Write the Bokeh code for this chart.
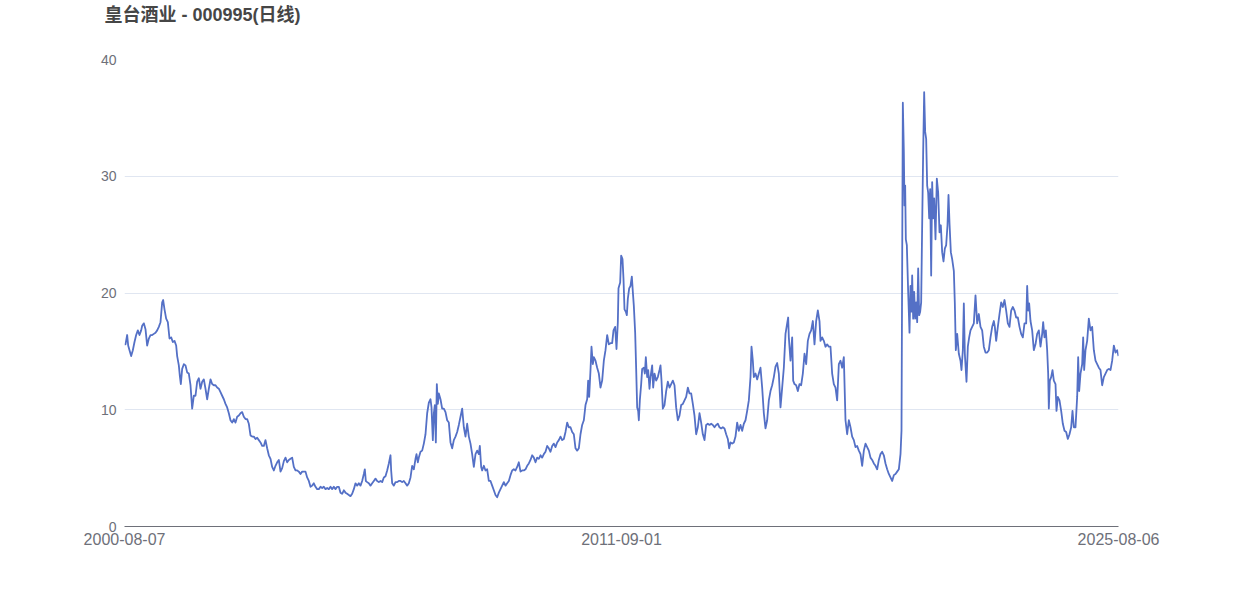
from bokeh.plotting import figure
from bokeh.models import Range1d, FixedTicker, Title, ColumnDataSource
from bokeh.embed import file_html
from bokeh.resources import INLINE

title_text = "皇台酒业 - 000995(日线)"
tick_sessions = [0, 2982, 5964]
tick_dates = ["2000-08-07", "2011-09-01", "2025-08-06"]
y_ticks = [0, 10, 20, 30, 40]

# trading-session index (0 = 2000-08-07) and closing price
session = [
    0, 6, 16, 22, 30, 40, 50, 60, 70, 80, 90, 100, 106, 116, 126, 136, 146, 156, 166, 176,
    186, 196, 206, 216, 226, 232, 240, 250, 260, 270, 280, 290, 300, 310, 316, 326, 332, 338, 346, 356,
    366, 376, 386, 396, 406, 416, 426, 436, 446, 456, 466, 476, 486, 496, 506, 516, 526, 536, 546, 556,
    566, 576, 586, 596, 606, 616, 626, 636, 646, 656, 666, 676, 686, 696, 706, 716, 726, 736, 746, 756,
    766, 776, 786, 796, 806, 816, 826, 836, 846, 856, 866, 876, 886, 896, 906, 916, 926, 936, 946, 956,
    966, 976, 986, 996, 1006, 1016, 1026, 1036, 1046, 1056, 1066, 1076, 1086, 1096, 1106, 1116, 1126, 1136, 1146, 1156,
    1166, 1176, 1186, 1196, 1206, 1216, 1226, 1236, 1246, 1256, 1266, 1276, 1286, 1296, 1306, 1316, 1326, 1336, 1346, 1356,
    1366, 1376, 1386, 1396, 1406, 1416, 1426, 1436, 1442, 1448, 1456, 1466, 1476, 1486, 1496, 1506, 1516, 1526, 1536, 1546,
    1556, 1566, 1576, 1586, 1596, 1600, 1606, 1616, 1626, 1636, 1646, 1656, 1666, 1676, 1686, 1696, 1706, 1716, 1726, 1736,
    1746, 1752, 1760, 1766, 1776, 1786, 1796, 1806, 1816, 1826, 1836, 1842, 1850, 1856, 1862, 1868, 1874, 1880, 1886, 1896,
    1906, 1916, 1926, 1936, 1946, 1956, 1966, 1976, 1986, 1996, 2006, 2016, 2026, 2036, 2046, 2056, 2066, 2076, 2086, 2096,
    2106, 2116, 2126, 2132, 2140, 2146, 2156, 2166, 2176, 2186, 2196, 2206, 2216, 2226, 2236, 2246, 2256, 2266, 2276, 2286,
    2296, 2306, 2316, 2326, 2336, 2346, 2356, 2366, 2376, 2386, 2396, 2406, 2416, 2426, 2436, 2446, 2456, 2466, 2476, 2486,
    2496, 2506, 2516, 2526, 2536, 2546, 2556, 2566, 2576, 2586, 2596, 2606, 2616, 2626, 2636, 2646, 2656, 2666, 2676, 2686,
    2696, 2706, 2716, 2726, 2736, 2746, 2756, 2766, 2776, 2782, 2788, 2796, 2802, 2810, 2816, 2826, 2836, 2846, 2856, 2866,
    2876, 2886, 2896, 2906, 2916, 2926, 2934, 2944, 2952, 2960, 2964, 2974, 2980, 2988, 2994, 3000, 3008, 3014, 3020, 3028,
    3036, 3044, 3050, 3056, 3064, 3070, 3076, 3082, 3086, 3092, 3100, 3106, 3116, 3122, 3128, 3136, 3142, 3150, 3156, 3166,
    3172, 3180, 3190, 3200, 3210, 3216, 3222, 3230, 3240, 3250, 3260, 3270, 3280, 3290, 3300, 3310, 3320, 3330, 3340, 3350,
    3360, 3370, 3380, 3390, 3400, 3410, 3420, 3430, 3440, 3450, 3460, 3470, 3480, 3490, 3500, 3510, 3520, 3530, 3540, 3550,
    3560, 3570, 3580, 3590, 3600, 3610, 3620, 3628, 3636, 3646, 3656, 3666, 3676, 3686, 3696, 3706, 3716, 3726, 3736, 3746,
    3756, 3762, 3770, 3776, 3786, 3796, 3806, 3816, 3826, 3836, 3846, 3856, 3866, 3876, 3886, 3896, 3906, 3916, 3926, 3936,
    3946, 3956, 3966, 3976, 3982, 3986, 3996, 4006, 4012, 4020, 4030, 4040, 4050, 4060, 4070, 4080, 4090, 4100, 4110, 4120,
    4130, 4140, 4150, 4160, 4170, 4176, 4186, 4196, 4206, 4216, 4226, 4236, 4246, 4256, 4266, 4276, 4286, 4296, 4306, 4316,
    4326, 4336, 4346, 4356, 4366, 4376, 4386, 4396, 4406, 4416, 4426, 4436, 4446, 4456, 4466, 4476, 4486, 4496, 4506, 4516,
    4526, 4536, 4546, 4556, 4566, 4576, 4586, 4596, 4606, 4616, 4626, 4636, 4646, 4656, 4662, 4670, 4676, 4680, 4684, 4688,
    4694, 4702, 4710, 4716, 4722, 4726, 4732, 4738, 4744, 4750, 4756, 4762, 4768, 4774, 4780, 4786, 4792, 4798, 4804, 4810,
    4816, 4822, 4828, 4834, 4840, 4846, 4852, 4858, 4866, 4874, 4882, 4890, 4898, 4906, 4914, 4922, 4930, 4938, 4944, 4950,
    4958, 4966, 4976, 4982, 4988, 4996, 5006, 5016, 5022, 5030, 5036, 5042, 5052, 5060, 5068, 5076, 5086, 5096, 5106, 5116,
    5126, 5136, 5146, 5156, 5166, 5176, 5186, 5196, 5206, 5216, 5222, 5230, 5240, 5250, 5260, 5270, 5280, 5290, 5300, 5310,
    5320, 5330, 5340, 5350, 5360, 5370, 5380, 5390, 5400, 5410, 5416, 5422, 5428, 5436, 5446, 5456, 5466, 5476, 5486, 5496,
    5506, 5512, 5520, 5528, 5536, 5542, 5546, 5552, 5560, 5568, 5576, 5586, 5592, 5600, 5610, 5620, 5630, 5640, 5650, 5660,
    5670, 5680, 5688, 5696, 5706, 5716, 5722, 5728, 5736, 5746, 5752, 5758, 5766, 5776, 5786, 5796, 5806, 5816, 5826, 5836,
    5846, 5856, 5866, 5876, 5886, 5896, 5906, 5916, 5926, 5936, 5946, 5956, 5964,
]
close = [
    15.6, 15.6, 16.4, 15.5, 15.1, 14.6, 15.1, 15.8, 16.4, 16.8, 16.4, 16.8, 17.2, 17.4, 16.9, 15.5, 16.1, 16.4, 16.4, 16.5,
    16.6, 16.8, 17.1, 17.5, 19.2, 19.4, 18.6, 17.8, 17.5, 16.1, 16.2, 15.8, 15.9, 15.5, 14.6, 13.8, 12.9, 12.2, 13.5, 13.9,
    13.8, 13.2, 13.1, 12.1, 10.1, 11.2, 11.2, 12.4, 12.7, 11.8, 12.4, 12.6, 11.8, 10.9, 11.8, 12.6, 12.2, 12.1, 12.1, 11.9,
    11.8, 11.5, 11.2, 10.9, 10.5, 10.2, 9.7, 9.1, 8.9, 9.2, 8.9, 9.4, 9.5, 9.7, 9.8, 9.4, 9.2, 9.2, 8.8, 7.8,
    7.7, 7.7, 7.5, 7.6, 7.4, 7.2, 6.9, 6.9, 7.4, 6.7, 6.1, 5.8, 5.1, 4.8, 5.2, 5.5, 5.7, 4.7, 5.0, 5.6,
    5.9, 5.5, 5.7, 5.8, 5.9, 5.1, 4.8, 4.8, 4.7, 4.5, 4.7, 4.7, 4.7, 4.2, 3.9, 3.4, 3.5, 3.7, 3.4, 3.2,
    3.2, 3.4, 3.3, 3.4, 3.2, 3.3, 3.2, 3.4, 3.2, 3.4, 3.2, 3.4, 3.4, 2.9, 2.8, 3.1, 2.9, 2.8, 2.7, 2.6,
    2.8, 3.2, 3.7, 3.5, 3.7, 3.5, 3.9, 4.5, 4.9, 3.9, 3.8, 3.7, 3.5, 3.7, 3.9, 4.1, 3.9, 3.8, 3.9, 3.8,
    4.2, 4.3, 4.8, 5.4, 6.1, 4.8, 3.7, 3.5, 3.8, 3.8, 3.9, 3.9, 3.8, 3.9, 3.7, 3.5, 3.7, 4.2, 5.2, 4.9,
    5.8, 6.2, 5.5, 5.9, 6.4, 6.5, 7.1, 7.9, 9.7, 10.6, 10.9, 10.2, 7.4, 9.7, 10.4, 7.2, 12.2, 10.5, 11.4, 10.9,
    10.1, 10.1, 9.8, 9.1, 8.9, 7.2, 6.7, 7.4, 7.7, 8.1, 8.7, 9.4, 10.1, 8.5, 7.7, 8.8, 7.7, 7.1, 6.2, 5.1,
    6.2, 6.5, 6.2, 6.9, 5.1, 4.8, 5.2, 4.8, 4.9, 3.9, 3.9, 3.5, 3.1, 2.7, 2.5, 2.9, 3.2, 3.5, 3.8, 3.5,
    3.7, 3.9, 4.4, 4.8, 4.9, 4.8, 5.1, 5.5, 4.7, 4.8, 4.8, 4.9, 5.2, 5.4, 5.7, 6.1, 5.9, 5.5, 5.9, 5.8,
    6.1, 5.9, 6.2, 6.4, 6.9, 6.7, 6.4, 6.9, 7.1, 6.8, 7.2, 7.4, 7.7, 7.4, 7.5, 8.1, 8.9, 8.5, 8.5, 8.1,
    7.9, 6.7, 6.5, 6.7, 7.9, 8.7, 9.1, 10.4, 10.9, 12.5, 11.1, 13.4, 15.4, 13.9, 14.5, 14.2, 13.6, 13.1, 11.9, 12.5,
    14.2, 15.1, 16.4, 15.6, 15.7, 15.7, 16.8, 17.1, 15.2, 17.5, 20.4, 20.9, 23.2, 22.9, 21.2, 18.6, 18.4, 18.1, 19.5, 20.4,
    20.6, 21.4, 20.1, 18.9, 16.6, 13.5, 10.2, 9.9, 9.1, 10.8, 12.2, 13.5, 13.6, 13.1, 14.5, 12.8, 13.4, 11.8, 12.8, 13.8,
    11.9, 13.1, 12.5, 12.8, 13.4, 13.8, 12.5, 10.1, 10.4, 11.6, 12.4, 11.9, 12.2, 12.5, 12.1, 10.2, 9.1, 9.5, 10.4, 10.5,
    10.8, 11.1, 11.9, 11.4, 11.4, 10.5, 9.5, 7.9, 8.5, 9.7, 8.9, 7.9, 7.4, 8.7, 8.8, 8.7, 8.8, 8.7, 8.5, 8.7,
    8.8, 8.5, 8.4, 8.5, 8.4, 7.9, 7.5, 6.7, 7.2, 7.1, 7.2, 7.7, 8.9, 8.2, 8.7, 8.2, 8.8, 9.1, 9.9, 10.8,
    12.8, 15.4, 14.2, 12.8, 13.1, 12.6, 13.1, 13.6, 11.9, 9.7, 8.4, 9.1, 10.8, 11.6, 12.1, 12.8, 13.7, 14.0, 13.1, 10.2,
    11.9, 13.6, 16.5, 17.4, 17.9, 16.2, 14.2, 16.2, 12.5, 12.2, 12.1, 11.6, 12.2, 12.1, 13.1, 14.8, 13.9, 15.9, 16.5, 16.8,
    17.6, 15.6, 17.6, 18.5, 17.6, 15.9, 16.2, 15.9, 15.4, 15.6, 15.4, 15.4, 13.1, 12.2, 11.9, 10.8, 13.9, 14.2, 13.6, 14.5,
    9.1, 7.9, 9.1, 8.5, 7.7, 7.4, 6.8, 6.9, 6.5, 6.2, 5.2, 6.5, 7.1, 6.8, 6.5, 5.9, 5.7, 5.4, 5.2, 4.9,
    5.7, 6.2, 6.4, 6.1, 5.4, 4.9, 4.5, 4.2, 3.9, 4.4, 4.5, 4.7, 4.9, 6.2, 8.2, 36.3, 32.1, 27.5, 29.2, 24.6,
    24.1, 20.1, 16.6, 20.6, 18.4, 21.5, 17.8, 20.1, 17.8, 19.2, 17.5, 22.1, 18.1, 18.4, 19.2, 25.8, 32.1, 37.2, 33.8, 33.2,
    29.2, 28.6, 26.4, 28.9, 21.5, 29.5, 26.4, 28.1, 24.6, 29.8, 28.6, 25.2, 25.8, 23.5, 22.7, 23.8, 24.1, 25.8, 28.4, 26.0,
    23.5, 22.9, 21.9, 19.1, 15.1, 16.5, 14.8, 14.2, 13.4, 15.1, 19.1, 14.8, 12.4, 15.4, 16.2, 16.8, 17.1, 17.4, 19.8, 17.4,
    18.2, 17.1, 16.8, 15.4, 14.9, 14.9, 15.1, 16.2, 17.1, 17.6, 17.1, 15.9, 17.1, 18.2, 19.2, 18.8, 19.4, 18.5, 17.4, 17.1,
    18.5, 18.8, 18.5, 17.9, 17.9, 17.1, 16.5, 16.2, 17.4, 17.4, 20.6, 18.5, 19.1, 17.6, 16.8, 15.1, 15.6, 16.5, 16.8, 15.4,
    16.5, 17.5, 16.2, 16.8, 15.1, 13.1, 10.1, 12.5, 12.8, 13.4, 12.5, 12.2, 9.9, 11.1, 10.8, 9.9, 8.8, 8.2, 8.1, 7.5,
    7.9, 8.5, 9.9, 8.5, 8.5, 11.1, 14.5, 11.6, 13.1, 13.9, 16.2, 13.4, 15.1, 15.9, 17.8, 16.8, 17.1, 15.1, 14.2, 13.9,
    13.6, 13.4, 12.1, 12.8, 13.1, 13.4, 13.5, 13.4, 14.2, 15.5, 14.9, 15.1, 14.6,
]

axis_color = "#6E7079"
font = "Liberation Sans"
title_font = "Liberation Sans, Noto Sans CJK SC"

p = figure(width=1234, height=588, output_backend="svg", toolbar_location=None,
           x_range=Range1d(tick_sessions[0], tick_sessions[-1]), y_range=Range1d(0, 40),
           min_border_left=124, min_border_right=116, min_border_top=59, min_border_bottom=62)
p.outline_line_color = None
p.background_fill_color = "white"
p.border_fill_color = "white"

src = ColumnDataSource(dict(x=session, y=close))
p.line("x", "y", source=src, line_color="#5470c6", line_width=1.8, line_join="round")

p.xgrid.visible = False
p.ygrid.grid_line_color = "#E0E6F1"
p.ygrid.grid_line_width = 1
p.yaxis.ticker = FixedTicker(ticks=y_ticks)
p.yaxis.axis_line_color = None
p.yaxis.major_tick_line_color = None
p.yaxis.minor_tick_line_color = None
p.yaxis.major_tick_out = 0
p.yaxis.major_label_standoff = 8
p.yaxis.major_label_text_color = axis_color
p.yaxis.major_label_text_font = font
p.yaxis.major_label_text_font_size = "14px"

p.xaxis.ticker = FixedTicker(ticks=tick_sessions)
p.xaxis.major_label_overrides = {t: d for t, d in zip(tick_sessions, tick_dates)}
p.xaxis.axis_line_color = axis_color
p.xaxis.axis_line_width = 1
p.xaxis.major_tick_line_color = None
p.xaxis.minor_tick_line_color = None
p.xaxis.major_tick_out = 0
p.xaxis.major_label_standoff = 6
p.xaxis.major_label_text_color = axis_color
p.xaxis.major_label_text_font = font
p.xaxis.major_label_text_font_size = "16px"

# blank spacer panel next to the frame, the title in the outer slot above it
spacer = Title(text=" ", align="left", standoff=11, text_font=title_font,
               text_font_size="18px", text_color="white")
p.add_layout(spacer, "above")
title = Title(text=title_text, align="left", offset=-20, standoff=4,
              text_font=title_font, text_font_style="bold",
              text_font_size="18px", text_color="#464646")
p.add_layout(title, "above")

open("out.html", "w").write(file_html(p, INLINE))
